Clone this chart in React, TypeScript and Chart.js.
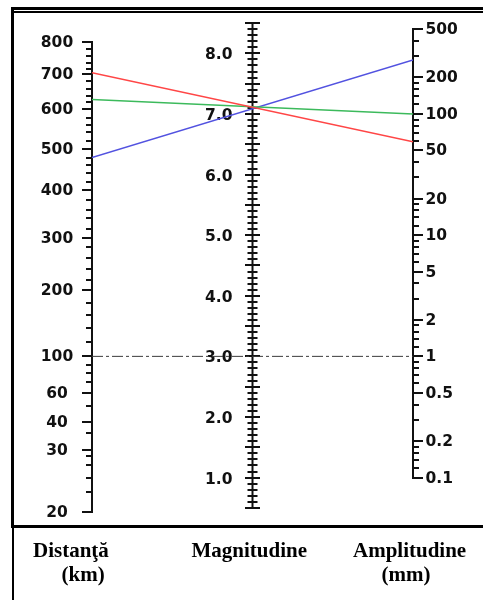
import React, { useEffect, useRef } from 'react';
import { Chart, registerables } from 'chart.js';

Chart.register(...registerables);

// ---- Distance scale (left): km and its -log A0 reading on the nomogram ----
const distanceKm = [800, 780, 760, 740, 720, 700, 680, 660, 640, 620, 600, 580, 560, 540, 520, 500, 480, 460, 440, 420, 400, 380, 360, 340, 320, 300, 280, 260, 240, 220, 200, 180, 160, 140, 120, 100, 90, 80, 70, 60, 50, 40, 35, 30, 28, 26, 24, 22, 20];
const distanceLogA0 = [5.59, 5.54, 5.48, 5.42, 5.37, 5.33, 5.27, 5.21, 5.15, 5.10, 5.04, 4.97, 4.91, 4.85, 4.78, 4.71, 4.64, 4.58, 4.51, 4.44, 4.37, 4.29, 4.21, 4.14, 4.05, 3.98, 3.90, 3.81, 3.72, 3.63, 3.55, 3.44, 3.34, 3.23, 3.12, 3.00, 2.93, 2.86, 2.79, 2.70, 2.59, 2.46, 2.37, 2.23, 2.18, 2.10, 2.00, 1.88, 1.72];
const distanceLabels = [800, 700, 600, 500, 400, 300, 200, 100, 60, 40, 30, 20];

// ---- Magnitude scale (middle) ----
const magnitudeMin = 0.5;
const magnitudeMax = 8.5;
const magnitudeMinorStep = 0.1;
const magnitudeMajorStep = 0.5;
const magnitudeLabels = [1, 2, 3, 4, 5, 6, 7, 8];

// ---- Amplitude scale (right, mm, logarithmic) ----
const amplitudeLabels = [500, 200, 100, 50, 20, 10, 5, 2, 1, 0.5, 0.2, 0.1];
const amplitudeMinor = [400, 300, 180, 160, 140, 120, 90, 80, 70, 60, 40, 30, 18, 16, 14, 12, 9, 8, 7, 6, 4, 3, 1.8, 1.6, 1.4, 1.2, 0.9, 0.8, 0.7, 0.6, 0.4, 0.3, 0.18, 0.16, 0.14, 0.12];

// ---- Readings drawn across the nomogram ----
const readingColors = ['#ff4646', '#3cba5c', '#5252e0'];
const readingDistanceKm = [705, 628, 480];
const readingAmplitudeMm = [59, 100, 279];
const referenceDistanceKm = 100;
const referenceAmplitudeMm = 1;

// ---- Caption texts ----
const captions = [
  { text: 'Distanţă', left: 33, top: 540 },
  { text: '(km)', left: 61.5, top: 564 },
  { text: 'Magnitudine', left: 191.5, top: 539.5 },
  { text: 'Amplitudine', left: 353, top: 539.5 },
  { text: '(mm)', left: 381.5, top: 563.5 },
];

// visible range of the common nomogram scale, in -log A0 units
const scaleTop = 5.8;
const scaleBottom = 1.65;

function logA0For(km: number): number {
  for (let i = 0; i < distanceKm.length - 1; i++) {
    const a = distanceKm[i];
    const b = distanceKm[i + 1];
    if (km <= a && km >= b) {
      const t = (a - km) / (a - b);
      return distanceLogA0[i] + t * (distanceLogA0[i + 1] - distanceLogA0[i]);
    }
  }
  return distanceLogA0[distanceLogA0.length - 1];
}

const TICK_FONT = 'bold 15.5px "DejaVu Sans"';
const INK = '#111';

const nomogramAxes = {
  id: 'nomogramAxes',
  beforeDatasetsDraw(chart: any) {
    const ctx: CanvasRenderingContext2D = chart.ctx;
    const xs = chart.scales.x;
    const yL = chart.scales.yL;
    const yM = chart.scales.yM;
    const yA = chart.scales.yA;
    const R = (v: number) => Math.round(v);
    const hLine = (x1: number, x2: number, y: number) => {
      ctx.beginPath();
      ctx.moveTo(x1, y);
      ctx.lineTo(x2, y);
      ctx.stroke();
    };
    const vLine = (x: number, y1: number, y2: number) => {
      ctx.beginPath();
      ctx.moveTo(x, y1);
      ctx.lineTo(x, y2);
      ctx.stroke();
    };
    ctx.save();
    ctx.strokeStyle = INK;
    ctx.fillStyle = INK;
    ctx.lineWidth = 2;
    ctx.font = TICK_FONT;
    ctx.textBaseline = 'middle';

    // Left: distance
    const xl = R(xs.getPixelForValue(0));
    const lTop = R(yL.getPixelForValue(distanceLogA0[0]));
    const lBot = R(yL.getPixelForValue(distanceLogA0[distanceLogA0.length - 1]));
    vLine(xl, lTop - 1, lBot + 1);
    distanceKm.forEach((km, i) => {
      const y = R(yL.getPixelForValue(distanceLogA0[i]));
      const major = distanceLabels.includes(km);
      hLine(xl - (major ? 10 : 6), xl, y);
      if (major) {
        ctx.textAlign = 'center';
        ctx.fillText(String(km), xl - 35, y + 1);
      }
    });

    // Middle: magnitude
    const xm = xs.getPixelForValue(1);
    const mTop = R(yM.getPixelForValue(magnitudeMax));
    const mBot = R(yM.getPixelForValue(magnitudeMin));
    vLine(xm, mTop - 1, mBot + 1);
    const nSteps = Math.round((magnitudeMax - magnitudeMin) / magnitudeMinorStep);
    const perMajor = Math.round(magnitudeMajorStep / magnitudeMinorStep);
    for (let i = 0; i <= nSteps; i++) {
      const m = magnitudeMin + i * magnitudeMinorStep;
      const y = R(yM.getPixelForValue(m));
      const long = i % perMajor === 0;
      const half = long ? 7.5 : 5;
      hLine(xm - half, xm + half, y);
    }
    ctx.textAlign = 'right';
    magnitudeLabels.forEach((m) => {
      const y = R(yM.getPixelForValue(m));
      ctx.fillText(m.toFixed(1), xm - 20, y + 2);
    });

    // Right: amplitude
    const xr = R(xs.getPixelForValue(2));
    const aTop = R(yA.getPixelForValue(amplitudeLabels[0]));
    const aBot = R(yA.getPixelForValue(amplitudeLabels[amplitudeLabels.length - 1]));
    vLine(xr, aTop - 1, aBot + 1);
    amplitudeMinor.forEach((a) => {
      const y = R(yA.getPixelForValue(a));
      hLine(xr, xr + 6, y);
    });
    ctx.textAlign = 'left';
    amplitudeLabels.forEach((a) => {
      const y = R(yA.getPixelForValue(a));
      hLine(xr - 1, xr + 10, y);
      ctx.fillText(String(a), xr + 12.5, y + 1);
    });

    ctx.restore();
  },
};

export default function App() {
  const canvasRef = useRef<HTMLCanvasElement | null>(null);

  useEffect(() => {
    if (!canvasRef.current) return;
    const lineData = readingColors.map((color, i) => ({
      data: [
        { x: 0, y: logA0For(readingDistanceKm[i]) },
        { x: 2, y: 3 + Math.log10(readingAmplitudeMm[i]) },
      ],
      borderColor: color,
      borderWidth: 1.5,
      pointRadius: 0,
      fill: false,
      tension: 0,
      xAxisID: 'x',
      yAxisID: 'yL',
    }));
    const reference = {
      data: [
        { x: 0, y: logA0For(referenceDistanceKm) },
        { x: 2, y: 3 + Math.log10(referenceAmplitudeMm) },
      ],
      borderColor: '#3a3a3a',
      borderWidth: 1,
      borderDash: [11, 3, 3, 3],
      pointRadius: 0,
      fill: false,
      tension: 0,
      xAxisID: 'x',
      yAxisID: 'yL',
    };

    const chart = new Chart(canvasRef.current, {
      type: 'line',
      data: { datasets: [...lineData, reference] as any },
      options: {
        animation: false,
        responsive: false,
        devicePixelRatio: 1,
        events: [],
        layout: { padding: { left: 92, right: 70, top: 17, bottom: 80 } },
        plugins: {
          legend: { display: false },
          title: { display: false },
          tooltip: { enabled: false },
        },
        scales: {
          x: { type: 'linear', display: false, min: 0, max: 2, bounds: 'data' },
          yL: { type: 'linear', display: false, min: scaleBottom, max: scaleTop, bounds: 'data' },
          yM: { type: 'linear', display: false, min: 2 * scaleBottom - 3, max: 2 * scaleTop - 3, bounds: 'data' },
          yA: {
            type: 'logarithmic',
            display: false,
            min: Math.pow(10, scaleBottom - 3),
            max: Math.pow(10, scaleTop - 3),
            bounds: 'data',
          },
        } as any,
      },
      plugins: [nomogramAxes],
    });
    return () => chart.destroy();
  }, []);

  const bar = (left: number, top: number, width: number, height: number) => (
    <div style={{ position: 'absolute', left, top, width, height, background: '#000' }} />
  );

  return (
    <div
      style={{
        position: 'absolute',
        left: 0,
        top: 0,
        width: 483,
        height: 600,
        overflow: 'hidden',
        background: '#fff',
      }}
    >
      <canvas
        ref={canvasRef}
        width={483}
        height={600}
        style={{ position: 'absolute', left: 0, top: 0, width: 483, height: 600 }}
      />
      {bar(11, 7, 472, 3)}
      {bar(11, 11, 472, 2)}
      {bar(11, 7, 3, 521)}
      {bar(12, 525, 2, 75)}
      {bar(11, 525, 472, 3)}
      {captions.map((c) => (
        <div
          key={c.text}
          style={{
            position: 'absolute',
            left: c.left,
            top: c.top,
            fontFamily: '"Liberation Serif", serif',
            fontWeight: 'bold',
            fontSize: 21,
            lineHeight: '21px',
            whiteSpace: 'nowrap',
            color: '#000',
          }}
        >
          {c.text}
        </div>
      ))}
    </div>
  );
}
